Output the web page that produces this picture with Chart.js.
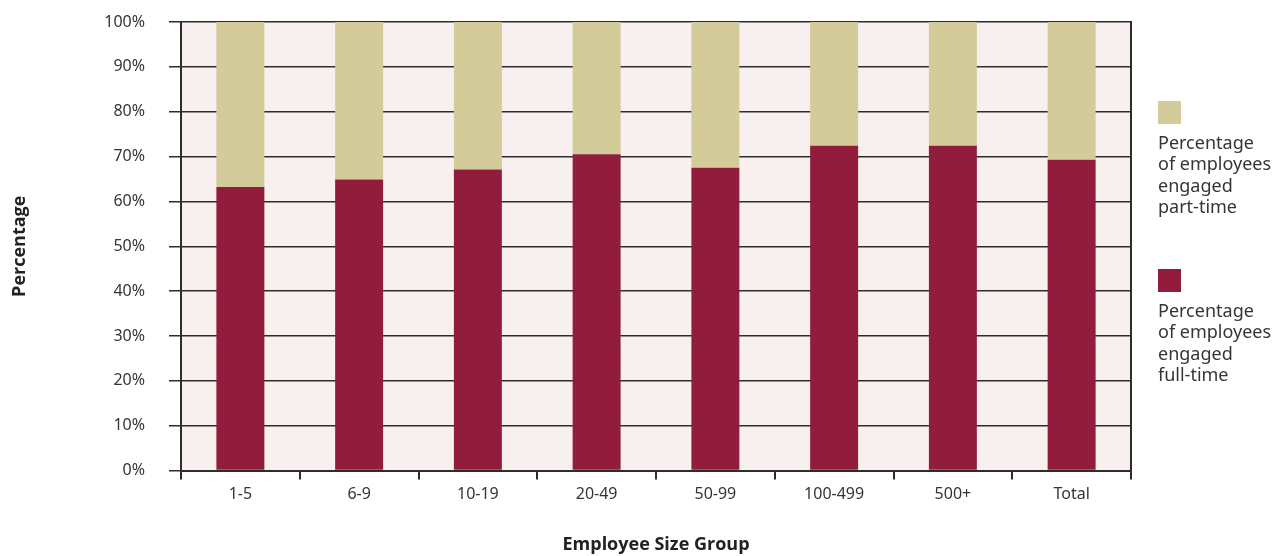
<!DOCTYPE html>
<html>
<head>
<meta charset="utf-8">
<script src="https://cdn.jsdelivr.net/npm/chart.js@4"></script>
<style>
  html, body { margin: 0; padding: 0; background: #fff; }
  #wrap { width: 1279px; height: 556px; }
</style>
</head>
<body>
<div id="wrap"><canvas id="chart-area"></canvas></div>
<script>
(function() {

  "use strict";

  var sizeGroups = ["1-5", "6-9", "10-19", "20-49", "50-99", "100-499", "500+", "Total"];
  var fullTime = [63.2, 64.9, 67.1, 70.5, 67.5, 72.4, 72.4, 69.3];
  var partTime = [36.8, 35.1, 32.9, 29.5, 32.5, 27.6, 27.6, 30.7];

  var fullLabel = ["Percentage", "of employees", "engaged", "full-time"];
  var partLabel = ["Percentage", "of employees", "engaged", "part-time"];

  var ink = "#353535";
  var lineCol = "#2f2c2c";

  // pink panel behind the bars plus the right-hand edge line
  var panel = {
    id: "panel",
    beforeDraw: function(chart) {
      var a = chart.chartArea, ctx = chart.ctx;
      ctx.save();
      ctx.fillStyle = "#f7f0ee";
      ctx.fillRect(a.left, a.top, a.right - a.left, a.bottom - a.top);
      ctx.restore();
    },
    afterDraw: function(chart) {
      var a = chart.chartArea, ctx = chart.ctx;
      ctx.save();
      ctx.strokeStyle = lineCol;
      ctx.lineWidth = 2;
      ctx.beginPath();
      ctx.moveTo(a.right, a.top - 1);
      ctx.lineTo(a.right, a.bottom);
      ctx.stroke();
      ctx.restore();
    }
  };

  // legend on the right: square swatch with a wrapped label below it
  var sideLegend = {
    id: "sideLegend",
    afterDraw: function(chart) {
      var ctx = chart.ctx;
      var ds = chart.data.datasets;
      var blocks = [
        { d: ds[1], top: 101 },
        { d: ds[0], top: 269 }
      ];
      ctx.save();
      ctx.font = "18px 'Noto Sans'";
      ctx.textBaseline = "alphabetic";
      ctx.textAlign = "left";
      blocks.forEach(function(b) {
        ctx.fillStyle = b.d.backgroundColor;
        ctx.fillRect(1158, b.top, 23, 23);
        ctx.fillStyle = ink;
        b.d.label.forEach(function(line, i) {
          ctx.fillText(line, 1158, b.top + 48 + i * 21.4);
        });
      });
      ctx.restore();
    }
  };

  new Chart(document.getElementById("chart-area"), {
    type: "bar",
    data: {
      labels: sizeGroups,
      datasets: [
        {
          label: fullLabel,
          backgroundColor: "#921c3c",
          data: fullTime,
          barPercentage: 0.404,
          categoryPercentage: 1
        },
        {
          label: partLabel,
          backgroundColor: "#d3cb99",
          data: partTime,
          barPercentage: 0.404,
          categoryPercentage: 1
        }
      ]
    },
    options: {
      responsive: true,
      maintainAspectRatio: false,
      animation: false,
      layout: { padding: { top: 22, right: 148, left: 0, bottom: 0 } },
      plugins: {
        legend: { display: false },
        tooltip: { enabled: false }
      },
      scales: {
        x: {
          stacked: true,
          afterFit: function(s) {
            s.height = 85.5;
            s.paddingLeft = 0;
            s.paddingRight = 0;
          },
          grid: {
            offset: true,
            drawOnChartArea: false,
            tickLength: 9,
            color: lineCol,
            lineWidth: 2
          },
          border: { display: true, color: lineCol, width: 2 },
          ticks: {
            color: ink,
            padding: 5,
            font: { family: "'Noto Sans'", size: 16 }
          },
          title: {
            display: true,
            text: "Employee Size Group",
            color: "#222",
            padding: { top: 0, bottom: 0 },
            font: { family: "'Open Sans'", size: 18, weight: "bold" }
          }
        },
        y: {
          stacked: true,
          min: 0,
          max: 100,
          afterFit: function(s) {
            s.width = 181;
            s.paddingTop = 0;
            s.paddingBottom = 0;
          },
          grid: {
            color: lineCol,
            lineWidth: 1.5,
            tickLength: 12
          },
          border: { display: true, color: lineCol, width: 2 },
          ticks: {
            stepSize: 10,
            color: ink,
            padding: 24,
            font: { family: "'Noto Sans'", size: 16 },
            callback: function(v) { return v + "%"; }
          },
          title: {
            display: true,
            text: "Percentage",
            color: "#222",
            padding: { top: 9, bottom: 0 },
            font: { family: "'Open Sans'", size: 18, weight: "bold" }
          }
        }
      }
    },
    plugins: [panel, sideLegend]
  });

})();
</script>
</body>
</html>
